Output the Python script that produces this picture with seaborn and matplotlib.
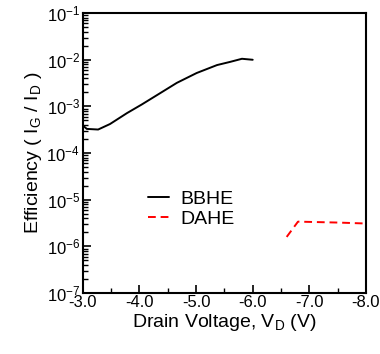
import numpy as np
import pandas as pd
import matplotlib
matplotlib.use("Agg")
import matplotlib.pyplot as plt
import matplotlib.ticker as mticker
import seaborn as sns

# values
bbhe_v = [-3.0, -3.07, -3.27, -3.48, -3.78, -4.04, -4.31, -4.66, -5.01, -5.37, -5.6, -5.81, -6.0]
bbhe_eff = [3.9e-4, 3.3e-4, 3.2e-4, 4.2e-4, 7.2e-4, 1.1e-3, 1.75e-3, 3.2e-3, 5.2e-3, 7.7e-3, 9.0e-3, 1.05e-2, 1.0e-2]
dahe_v = [-6.6, -6.8, -7.5, -8.0]
dahe_eff = [1.6e-6, 3.4e-6, 3.25e-6, 3.1e-6]

df = pd.concat([
    pd.DataFrame({"vd": bbhe_v, "eff": bbhe_eff, "device": "BBHE"}),
    pd.DataFrame({"vd": dahe_v, "eff": dahe_eff, "device": "DAHE"}),
])

sns.set_style("ticks")
plt.rcParams['font.family'] = ['Liberation Sans', 'DejaVu Sans']
plt.rcParams['mathtext.fontset'] = 'custom'
plt.rcParams['mathtext.rm'] = 'Liberation Sans'
plt.rcParams['mathtext.it'] = 'Liberation Sans:italic'
plt.rcParams['mathtext.bf'] = 'Liberation Sans:bold'
plt.rcParams['axes.unicode_minus'] = False
plt.rcParams['text.color'] = 'black'
plt.rcParams['axes.labelcolor'] = 'black'
plt.rcParams['axes.edgecolor'] = 'black'

fig = plt.figure(figsize=(3.8, 3.54), dpi=100)
ax = fig.add_axes([0.218, 0.172, 0.745, 0.791])

sns.lineplot(data=df, x="vd", y="eff", hue="device", style="device",
             palette={"BBHE": "black", "DAHE": "red"},
             dashes={"BBHE": "", "DAHE": (4, 2.5)},
             linewidth=1.4, sort=False, estimator=None, ax=ax)

ax.set_yscale("log")
ax.set_ylim(1e-7, 1e-1)
ax.set_xlim(-3.0, -8.0)
ax.set_xticks([-3, -4, -5, -6, -7, -8])
ax.xaxis.set_major_formatter(mticker.FormatStrFormatter("%.1f"))
ax.xaxis.set_minor_locator(mticker.MultipleLocator(0.5))
ax.yaxis.set_major_locator(mticker.FixedLocator([10.0 ** e for e in range(-7, 0)]))
ax.yaxis.set_major_formatter(mticker.LogFormatterMathtext())
minor_y = [m * 10.0 ** e for e in range(-7, -1) for m in range(2, 10)]
ax.yaxis.set_minor_locator(mticker.FixedLocator(minor_y))
ax.yaxis.set_minor_formatter(mticker.NullFormatter())

ax.tick_params(axis="both", which="major", direction="in", labelsize=12,
               length=6, width=1.2, color="black", labelcolor="black")
ax.tick_params(axis="both", which="minor", direction="in",
               length=3.6, width=1.0, color="black")
ax.tick_params(axis="x", which="major", pad=1.5)
ax.tick_params(axis="y", which="major", pad=2)
for s in ax.spines.values():
    s.set_linewidth(1.5)

ax.set_xlabel("Drain Voltage, V$_\\mathregular{D}$ (V)", fontsize=14, labelpad=1)
ax.set_ylabel("Efficiency ( I$_\\mathregular{G}$ / I$_\\mathregular{D}$ )", fontsize=14, labelpad=2)

leg = ax.legend(loc="center left", bbox_to_anchor=(0.17, 0.30), frameon=False,
                fontsize=14, handlelength=1.05, handletextpad=0.6,
                labelspacing=0.1, title=None)

fig.savefig("out.png", dpi=100)
